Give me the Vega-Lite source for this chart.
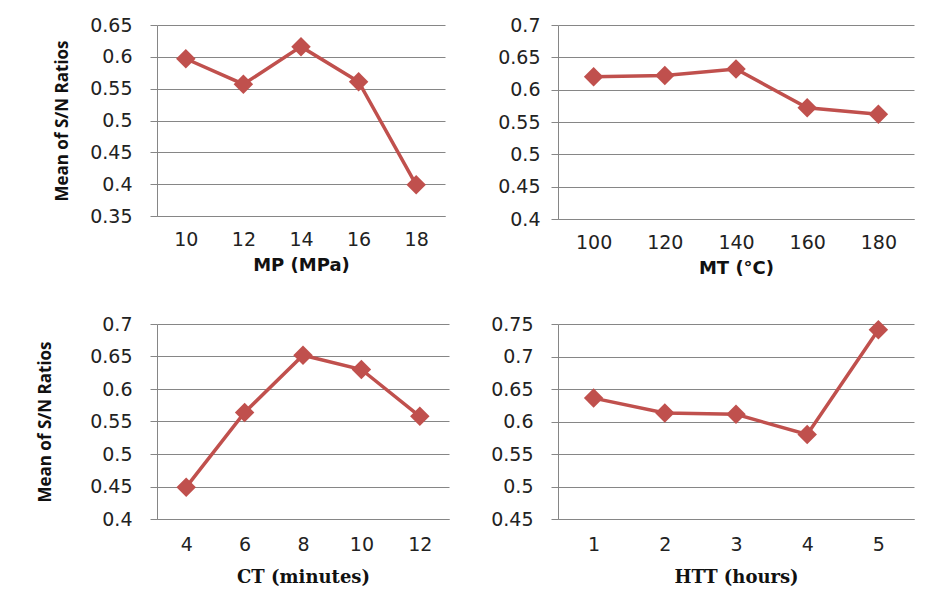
{
  "$schema": "https://vega.github.io/schema/vega-lite/v6.json",
  "background": "white",
  "padding": {"left": 36, "top": 16, "right": 5, "bottom": 5},
  "bounds": "flush",
  "columns": 2,
  "spacing": {"row": 105, "column": 109},
  "datasets": {
    "mp": [{"level": 10, "sn": 0.597}, {"level": 12, "sn": 0.557}, {"level": 14, "sn": 0.616}, {"level": 16, "sn": 0.561}, {"level": 18, "sn": 0.399}],
    "mt": [{"level": 100, "sn": 0.620}, {"level": 120, "sn": 0.622}, {"level": 140, "sn": 0.632}, {"level": 160, "sn": 0.572}, {"level": 180, "sn": 0.562}],
    "ct": [{"level": 4, "sn": 0.449}, {"level": 6, "sn": 0.564}, {"level": 8, "sn": 0.652}, {"level": 10, "sn": 0.630}, {"level": 12, "sn": 0.558}],
    "htt": [{"level": 1, "sn": 0.636}, {"level": 2, "sn": 0.613}, {"level": 3, "sn": 0.611}, {"level": 4, "sn": 0.580}, {"level": 5, "sn": 0.741}]
  },
  "concat": [
    {
      "width": 288, "height": 191,
      "data": {"name": "mp"},
      "encoding": {
        "x": {"field": "level", "type": "ordinal", "scale": {"padding": 0.5}, "axis": {"title": "MP (MPa)", "titleFont": "DejaVu Sans", "titleFontWeight": "bold", "titlePadding": 7}},
        "y": {"field": "sn", "type": "quantitative", "scale": {"domain": [0.35, 0.65], "nice": false, "zero": false}, "axis": {"values": [0.35, 0.4, 0.45, 0.5, 0.55, 0.6, 0.65], "title": "Mean of S/N Ratios", "titlePadding": 18}}
      },
      "layer": [
        {"mark": {"type": "line", "color": "#C0504D", "strokeWidth": 3.5}},
        {"mark": {"type": "point", "shape": "diamond", "filled": true, "size": 380, "color": "#C0504D", "opacity": 1}}
      ]
    },
    {
      "width": 356, "height": 194,
      "data": {"name": "mt"},
      "encoding": {
        "x": {"field": "level", "type": "ordinal", "scale": {"padding": 0.5}, "axis": {"title": "MT (°C)", "titleFont": "DejaVu Sans", "titleFontWeight": "bold", "titlePadding": 7}},
        "y": {"field": "sn", "type": "quantitative", "scale": {"domain": [0.4, 0.7], "nice": false, "zero": false}, "axis": {"values": [0.4, 0.45, 0.5, 0.55, 0.6, 0.65, 0.7], "title": null, "labelPadding": 11}}
      },
      "layer": [
        {"mark": {"type": "line", "color": "#C0504D", "strokeWidth": 3.5}},
        {"mark": {"type": "point", "shape": "diamond", "filled": true, "size": 380, "color": "#C0504D", "opacity": 1}}
      ]
    },
    {
      "width": 292, "height": 195,
      "data": {"name": "ct"},
      "encoding": {
        "x": {"field": "level", "type": "ordinal", "scale": {"padding": 0.5}, "axis": {"title": "CT (minutes)", "titleFont": "DejaVu Serif", "titleFontWeight": "bold", "labelPadding": 16, "titlePadding": 14}},
        "y": {"field": "sn", "type": "quantitative", "scale": {"domain": [0.4, 0.7], "nice": false, "zero": false}, "axis": {"values": [0.4, 0.45, 0.5, 0.55, 0.6, 0.65, 0.7], "title": "Mean of S/N Ratios", "titlePadding": 35}}
      },
      "layer": [
        {"mark": {"type": "line", "color": "#C0504D", "strokeWidth": 3.5}},
        {"mark": {"type": "point", "shape": "diamond", "filled": true, "size": 380, "color": "#C0504D", "opacity": 1}}
      ]
    },
    {
      "width": 356, "height": 195,
      "data": {"name": "htt"},
      "encoding": {
        "x": {"field": "level", "type": "ordinal", "scale": {"padding": 0.5}, "axis": {"title": "HTT (hours)", "titleFont": "DejaVu Serif", "titleFontWeight": "bold", "labelPadding": 16, "titlePadding": 14}},
        "y": {"field": "sn", "type": "quantitative", "scale": {"domain": [0.45, 0.75], "nice": false, "zero": false}, "axis": {"values": [0.45, 0.5, 0.55, 0.6, 0.65, 0.7, 0.75], "title": null}}
      },
      "layer": [
        {"mark": {"type": "line", "color": "#C0504D", "strokeWidth": 3.5}},
        {"mark": {"type": "point", "shape": "diamond", "filled": true, "size": 380, "color": "#C0504D", "opacity": 1}}
      ]
    }
  ],
  "config": {
    "view": {"stroke": null},
    "axis": {
      "labelFont": "DejaVu Sans", "labelFontSize": 19, "labelColor": "#222222",
      "titleColor": "#111111", "titleFontSize": 18,
      "domainColor": "#868686", "gridColor": "#868686", "tickColor": "#868686",
      "domainWidth": 1, "gridWidth": 1, "gridOpacity": 1
    },
    "axisX": {"grid": false, "ticks": false, "labelAngle": 0, "labelPadding": 14},
    "axisY": {"grid": true, "tickSize": 7, "labelPadding": 18, "format": "~g", "titleFont": "Open Sans", "titleFontWeight": "bold", "titleFontSize": 17}
  }
}
